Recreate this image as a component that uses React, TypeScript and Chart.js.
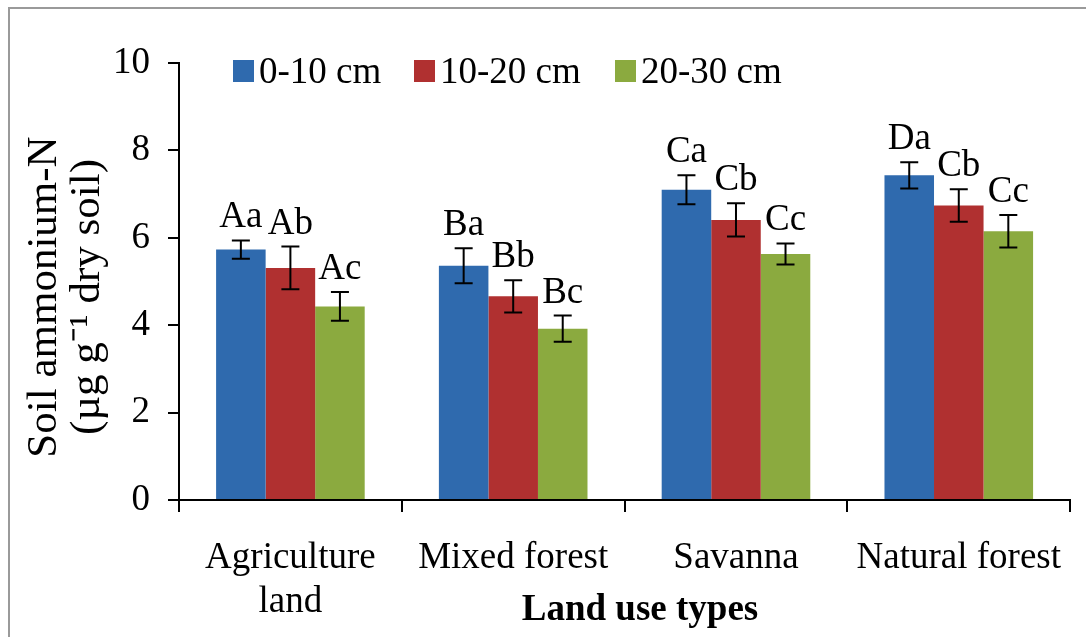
import React, { useEffect, useRef } from "react";
import { Chart, registerables } from "chart.js";

Chart.register(...registerables);

const categories: (string | string[])[] = [["Agriculture", "land"], "Mixed forest", "Savanna", "Natural forest"];
const seriesNames = ["0-10 cm", "10-20 cm", "20-30 cm"];
const depth0 = [5.73, 5.36, 7.1, 7.43];
const depth1 = [5.31, 4.66, 6.41, 6.74];
const depth2 = [4.43, 3.92, 5.63, 6.15];
const err0 = [0.21, 0.4, 0.33, 0.3];
const err1 = [0.49, 0.37, 0.38, 0.37];
const err2 = [0.33, 0.3, 0.24, 0.37];
const letters0 = ["Aa", "Ba", "Ca", "Da"];
const letters1 = ["Ab", "Bb", "Cb", "Cb"];
const letters2 = ["Ac", "Bc", "Cc", "Cc"];
const yTicks = [0, 2, 4, 6, 8, 10];
const xTitle = "Land use types";
const yTitle = ["Soil ammonium-N", "(µg g⁻¹ dry soil)"];

const colors = ["#2F6AAE", "#B03030", "#8BAA3F"];
const FONT = '"Liberation Serif", "Times New Roman", serif';

const errors = [err0, err1, err2];
const letters = [letters0, letters1, letters2];

const decorPlugin = {
  id: "decor",
  beforeDraw(chart: any) {
    const ctx = chart.ctx;
    ctx.save();
    ctx.fillStyle = "#ffffff";
    ctx.fillRect(0, 0, chart.width, chart.height);
    ctx.strokeStyle = "#9a9a9a";
    ctx.lineWidth = 2;
    ctx.beginPath();
    ctx.moveTo(9, chart.height);
    ctx.lineTo(9, 8);
    ctx.lineTo(chart.width, 8);
    ctx.stroke();
    ctx.restore();
  },
  afterDatasetsDraw(chart: any) {
    const ctx = chart.ctx;
    const y = chart.scales.y;
    ctx.save();
    chart.data.datasets.forEach((ds: any, i: number) => {
      const meta = chart.getDatasetMeta(i);
      meta.data.forEach((bar: any, j: number) => {
        const v = ds.data[j];
        const e = errors[i][j];
        const yt = y.getPixelForValue(v + e);
        const yb = y.getPixelForValue(v - e);
        const x = bar.x;
        ctx.strokeStyle = "#000";
        ctx.lineWidth = 2;
        ctx.beginPath();
        ctx.moveTo(x, yt);
        ctx.lineTo(x, yb);
        ctx.moveTo(x - 9, yt);
        ctx.lineTo(x + 9, yt);
        ctx.moveTo(x - 9, yb);
        ctx.lineTo(x + 9, yb);
        ctx.stroke();
        ctx.fillStyle = "#000";
        ctx.font = `37px ${FONT}`;
        ctx.textAlign = "center";
        ctx.textBaseline = "alphabetic";
        ctx.fillText(letters[i][j], x, yt - 13);
      });
    });
    ctx.restore();
  },
  afterDraw(chart: any) {
    const ctx = chart.ctx;
    const xs = [233, 414, 615];
    ctx.save();
    ctx.font = `37px ${FONT}`;
    ctx.textBaseline = "middle";
    ctx.textAlign = "left";
    chart.data.datasets.forEach((ds: any, i: number) => {
      ctx.fillStyle = ds.backgroundColor;
      ctx.fillRect(xs[i], 60, 21, 22);
      ctx.fillStyle = "#000";
      ctx.fillText(ds.label, xs[i] + 26, 73);
    });
    // x title
    ctx.font = `bold 37px ${FONT}`;
    ctx.textAlign = "center";
    ctx.fillText(xTitle, 640, 610);
    // y title
    ctx.font = `43px ${FONT}`;
    ctx.translate(0, 297);
    ctx.rotate(-Math.PI / 2);
    ctx.fillText(yTitle[0], 0, 45);
    ctx.fillText(yTitle[1], 0, 88);
    ctx.restore();
  },
};

export default function App() {
  const ref = useRef<HTMLCanvasElement | null>(null);
  useEffect(() => {
    if (!ref.current) return;
    const chart = new Chart(ref.current, {
      type: "bar",
      data: {
        labels: categories as any,
        datasets: [depth0, depth1, depth2].map((d, i) => ({
          label: seriesNames[i],
          data: d,
          backgroundColor: colors[i],
          borderWidth: 0,
          barPercentage: 1.0,
          categoryPercentage: 0.667,
        })),
      },
      options: {
        responsive: false,
        animation: false,
        events: [],
        layout: { padding: { left: 0, right: 8, top: 63, bottom: 0 } },
        plugins: { legend: { display: false }, tooltip: { enabled: false } },
        scales: {
          x: {
            afterFit: (s: any) => {
              s.height = 137;
            },
            grid: {
              offset: true,
              drawOnChartArea: false,
              drawTicks: true,
              tickLength: 12,
              color: "#000",
              lineWidth: 2,
            },
            border: { display: true, color: "#000", width: 2 },
            ticks: {
              color: "#000",
              padding: 24,
              maxRotation: 0,
              autoSkip: false,
              font: { family: FONT, size: 37, lineHeight: 1.2 },
            },
          },
          y: {
            min: 0,
            max: 10,
            afterFit: (s: any) => {
              s.width = 179;
            },
            afterBuildTicks: (s: any) => {
              s.ticks = yTicks.map((v) => ({ value: v }));
            },
            grid: {
              drawOnChartArea: false,
              drawTicks: true,
              tickLength: 11,
              color: "#000",
              lineWidth: 2,
            },
            border: { display: true, color: "#000", width: 2 },
            ticks: {
              color: "#000",
              padding: 18,
              font: { family: FONT, size: 37 },
            },
          },
        },
      },
      plugins: [decorPlugin],
    });
    return () => chart.destroy();
  }, []);
  return (
    <div style={{ position: "fixed", left: 0, top: 0, width: 1086, height: 637 }}>
      <canvas ref={ref} width={1086} height={637} style={{ width: 1086, height: 637, display: "block" }} />
    </div>
  );
}
